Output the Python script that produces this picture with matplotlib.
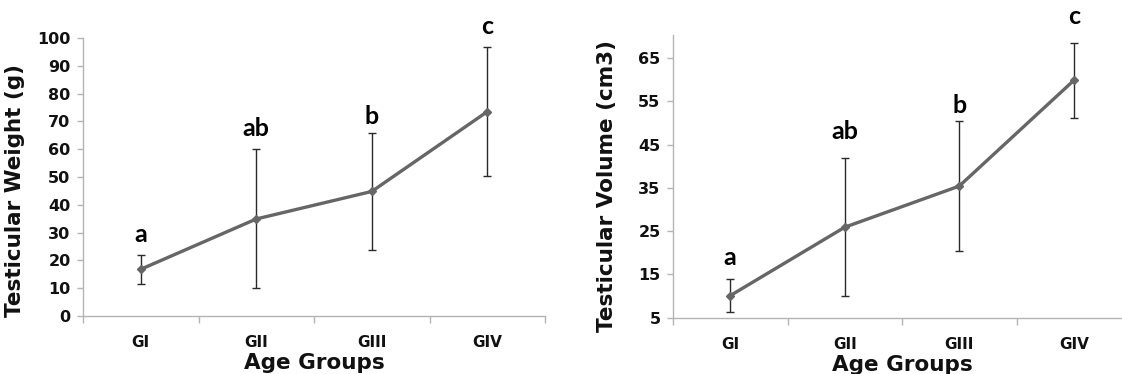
import matplotlib
matplotlib.use("Agg")
import matplotlib.pyplot as plt
import numpy as np

groups = ["GI", "GII", "GIII", "GIV"]

weight_mean = [16.8, 34.9, 44.8, 73.5]
weight_err = [5.2, 25.0, 21.0, 23.3]
weight_letters = ["a", "ab", "b", "c"]
weight_letter_y = [29.3, 67.4, 71.9, 104.0]

volume_mean = [10.1, 25.9, 35.4, 59.8]
volume_err = [3.8, 15.9, 15.1, 8.7]
volume_letters = ["a", "ab", "b", "c"]
volume_letter_y = [18.8, 48.0, 54.0, 74.6]

W, H = 1122, 374
fig = plt.figure(figsize=(W / 100, H / 100), dpi=100)

line_col = "#666666"
err_col = "#2a2a2a"
spine_col = "#b4b4b4"
txt_col = "#111111"
lab_font = "DejaVu Sans"
let_font = "Lato"


def make_panel(rect, means, errs, letters, letter_y, ylim, yticks, ylabel, ylabel_xy):
    ax = fig.add_axes(rect)
    x = np.arange(len(groups))
    ax.errorbar(x, means, yerr=errs, fmt="none", ecolor=err_col, elinewidth=1.0,
                capsize=3, capthick=1.0, zorder=2)
    ax.plot(x, means, color=line_col, lw=2.4, marker="D", ms=4.5,
            mfc=line_col, mec=line_col, zorder=3)
    for xi, lt, ly in zip(x, letters, letter_y):
        ax.text(xi, ly, lt, ha="center", va="center", fontsize=18,
                fontweight="bold", family=let_font, color="black", clip_on=False)
    ax.set_xlim(-0.5, len(groups) - 0.5)
    ax.set_ylim(*ylim)
    ax.set_yticks(yticks)
    ax.set_yticklabels([str(t) for t in yticks], fontsize=11.5, fontweight="bold",
                       family=lab_font, color=txt_col)
    ax.set_xticks(x)
    ax.set_xticklabels(groups, fontsize=11, fontweight="bold", family=lab_font,
                       color=txt_col)
    ax.set_xticks(np.arange(-0.5, len(groups)), minor=True)
    ax.tick_params(axis="x", which="major", length=0, pad=14)
    ax.tick_params(axis="x", which="minor", length=5, width=1, color=spine_col)
    ax.tick_params(axis="y", length=4, width=1, color=spine_col, pad=5)
    for s in ["top", "right"]:
        ax.spines[s].set_visible(False)
    for s in ["left", "bottom"]:
        ax.spines[s].set_color(spine_col)
        ax.spines[s].set_linewidth(1.0)
    ax.set_xlabel("Age Groups", fontsize=15.5, fontweight="bold", family=lab_font,
                  color=txt_col, labelpad=2)
    ax.set_ylabel(ylabel, fontsize=15.5, fontweight="bold", family=lab_font,
                  color=txt_col)
    ax.yaxis.set_label_coords(*ylabel_xy)
    return ax


make_panel([83 / W, (H - 316) / H, 462 / W, 278 / H], weight_mean, weight_err,
           weight_letters, weight_letter_y, (0, 100), list(range(0, 101, 10)),
           "Testicular Weight (g)", ((25 - 83) / 462, 0.45))

make_panel([673 / W, (H - 317.7) / H, 458 / W, 282.7 / H], volume_mean, volume_err,
           volume_letters, volume_letter_y, (5, 70.3), list(range(5, 66, 10)),
           "Testicular Volume (cm3)", ((617 - 673) / 458, 0.465))

fig.savefig("out.png", dpi=100)
